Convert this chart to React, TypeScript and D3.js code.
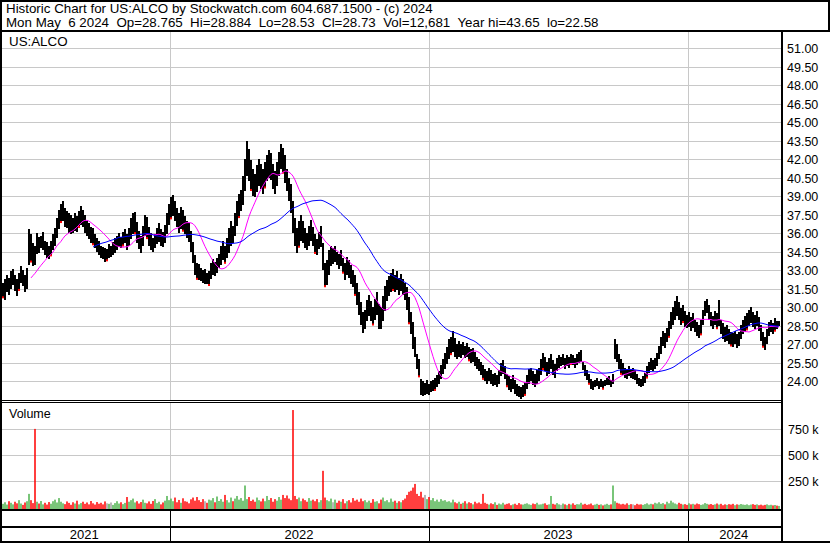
import React from 'react';
import * as d3 from 'd3';

// ---- data (2 trading days per entry) ----
const hi = [
  32.0,32.3,32.6,32.4,32.9,33.1,32.6,32.3,32.8,33.3,33.0,32.6,33.2,
  36.3,35.9,35.2,35.0,36.0,35.7,35.8,36.1,35.4,
  35.3,35.0,35.4,35.9,36.4,
  37.2,37.9,38.4,38.6,38.0,37.8,37.6,
  37.5,37.2,37.6,37.4,37.8,38.2,
  37.9,37.5,37.0,36.8,36.5,36.4,35.9,35.6,35.4,
  35.0,34.9,34.8,34.7,35.1,35.0,35.3,35.6,
  35.8,36.0,35.7,36.1,36.3,35.9,36.4,
  37.2,37.6,37.7,36.9,36.2,35.8,36.6,37.5,37.3,36.5,
  36.0,35.6,35.9,36.4,36.8,36.3,36.1,36.7,
  37.6,38.4,38.9,39.1,38.6,38.0,37.6,38.1,37.9,37.4,37.0,36.8,
  36.2,35.3,34.2,33.6,
  33.5,33.2,33.0,33.1,32.8,32.9,
  33.6,33.9,33.7,34.0,34.3,35.0,35.4,35.0,35.6,
  36.4,37.0,36.6,37.6,38.6,39.2,39.5,40.6,42.0,
  43.5,42.8,41.9,41.2,40.8,41.5,42.0,41.6,41.2,41.8,42.3,42.7,42.5,41.6,41.0,41.8,42.6,43.2,42.9,42.3,41.2,40.5,
  40.0,38.6,37.2,36.4,37.0,37.5,37.0,36.4,36.0,36.6,37.1,36.5,35.9,35.5,36.1,36.6,35.2,33.6,
  33.8,34.6,35.0,34.8,35.0,34.5,34.3,34.6,34.0,33.6,34.1,33.8,33.4,33.0,32.6,
  32.0,31.2,30.4,29.6,29.8,30.6,31.0,30.5,30.0,30.7,31.2,30.3,
  30.0,30.9,31.7,32.2,32.5,32.8,33.1,32.6,32.9,32.4,32.7,32.3,32.0,
  31.6,30.8,29.6,28.8,27.6,26.2,25.8,
  24.2,24.0,23.9,24.1,23.8,24.0,24.1,24.3,24.5,24.8,
  25.3,25.8,26.3,26.8,27.4,27.6,28.1,27.5,27.0,
  27.3,27.0,27.2,26.9,27.1,26.8,26.6,26.7,
  26.4,26.0,25.8,25.6,25.3,25.0,24.8,25.1,24.9,24.6,24.7,24.5,24.9,
  25.5,25.7,25.2,24.6,24.4,24.2,24.5,24.1,23.8,23.6,23.5,23.7,23.9,24.5,25.0,25.1,24.8,24.6,24.9,25.1,
  25.8,26.3,26.0,25.6,25.9,26.2,25.7,25.4,25.9,26.1,26.0,26.2,25.9,26.1,26.0,26.2,26.1,25.9,26.2,26.4,26.5,25.6,25.3,24.9,24.6,
  24.2,24.0,24.1,24.3,24.0,24.2,24.0,24.1,24.3,24.4,24.1,24.6,
  27.4,27.0,26.2,25.8,25.5,25.1,25.0,25.2,25.0,25.1,24.9,24.6,24.3,24.2,24.4,24.7,25.2,25.6,25.9,25.7,25.9,26.3,
  26.9,27.6,28.1,27.9,28.3,28.9,29.6,30.0,30.5,30.9,30.4,29.9,30.2,29.7,29.4,
  29.6,29.2,29.5,29.0,28.8,28.6,29.0,29.8,30.5,30.7,30.2,29.6,29.3,29.7,29.5,30.6,
  29.0,28.7,28.4,28.6,28.2,28.0,27.9,28.1,27.8,28.0,28.6,29.0,29.3,29.5,
  29.8,30.0,29.6,29.4,29.7,29.2,28.6,28.0,27.6,28.2,28.8,29.0,28.7,29.1,28.9,28.9,
];
const lo = [
  30.8,30.6,31.2,31.0,31.5,31.8,31.3,30.9,31.4,32.0,31.7,31.2,31.5,
  33.4,33.7,33.3,33.4,34.3,34.4,34.8,34.6,34.2,
  34.0,33.9,34.2,34.6,35.0,
  35.6,36.3,36.9,37.0,36.5,36.4,36.0,
  35.9,36.0,36.2,36.1,36.5,36.7,
  36.5,36.0,35.8,35.5,35.2,35.1,34.8,34.5,34.2,
  34.0,33.9,33.7,33.8,34.0,34.1,34.2,34.4,
  34.6,34.9,34.8,35.0,35.2,34.6,35.0,
  35.5,35.9,36.0,35.2,34.7,34.4,35.0,35.8,35.6,35.0,
  34.6,34.5,34.8,35.1,35.3,35.0,34.9,35.2,
  35.9,36.7,37.2,37.4,37.0,36.5,36.0,36.3,36.2,35.9,35.6,35.3,
  34.5,33.6,32.6,32.3,
  32.2,32.1,32.0,31.9,31.9,31.8,
  32.3,32.6,32.5,32.8,33.2,33.4,33.8,33.6,34.0,
  34.4,35.0,35.2,35.8,36.6,37.3,37.8,38.3,39.4,
  40.6,40.2,39.5,39.0,38.9,39.3,39.8,39.6,39.2,39.7,40.2,40.5,40.3,39.6,39.2,39.8,40.6,41.2,40.9,40.1,39.4,38.6,
  37.6,36.0,35.0,34.4,34.9,35.4,35.2,34.8,34.6,35.0,35.4,35.0,34.4,34.2,34.7,34.9,33.0,31.7,
  31.8,32.6,33.3,33.5,33.7,33.4,33.1,33.3,32.8,32.2,32.6,32.4,31.9,31.6,31.0,
  30.2,29.4,28.6,27.9,28.2,28.9,29.3,28.9,28.6,29.0,29.4,28.2,
  28.2,28.9,29.7,30.5,30.9,31.2,31.4,31.2,31.4,31.0,31.3,31.0,30.6,
  29.8,28.7,27.8,26.6,26.0,25.0,24.4,
  22.9,22.8,22.9,23.0,22.9,23.1,23.2,23.3,23.5,23.8,
  24.2,24.6,25.0,25.4,25.8,26.2,26.4,26.0,25.8,
  26.0,25.9,26.1,25.9,26.0,25.7,25.5,25.6,
  25.2,25.0,24.8,24.5,24.2,24.0,23.8,24.0,23.8,23.6,23.7,23.5,23.8,
  24.4,24.6,24.2,23.6,23.3,23.1,23.4,23.0,22.8,22.7,22.6,22.7,22.9,23.4,23.8,24.0,23.7,23.5,23.8,24.0,
  24.5,25.0,24.8,24.4,24.6,25.0,24.5,24.3,24.8,25.1,25.2,25.3,25.0,25.2,25.1,25.4,25.3,25.1,25.3,25.5,25.6,24.9,24.4,24.1,23.8,
  23.4,23.3,23.5,23.6,23.4,23.5,23.4,23.6,23.7,23.7,23.5,23.8,
  25.8,25.6,25.0,24.6,24.5,24.3,24.2,24.4,24.3,24.2,24.1,23.8,23.6,23.5,23.6,23.9,24.3,24.7,24.9,24.8,25.0,25.2,
  25.8,26.2,26.9,26.7,27.2,27.6,28.2,28.6,29.0,29.3,29.0,28.6,28.8,28.4,28.3,
  28.4,28.1,28.3,28.0,27.7,27.5,27.8,28.6,29.3,29.5,29.0,28.5,28.2,28.6,28.3,28.5,
  27.8,27.4,27.2,27.3,27.0,26.9,26.8,27.0,26.7,26.9,27.4,27.8,28.0,28.2,
  28.5,28.7,28.4,28.2,28.5,28.1,27.3,26.8,26.5,27.0,27.7,28.0,27.8,28.1,28.2,28.5,
];
// volume in thousands
const vol = [
  35,50,28,60,45,30,55,40,70,38,25,48,60,130,70,42,750,55,38,62,30,
  45,28,52,36,60,75,48,90,55,40,32,58,44,26,50,38,65,30,42,55,
  35,48,30,62,40,28,52,36,45,30,58,40,35,48,25,42,60,38,50,32,
  44,100,55,70,85,48,60,38,52,75,45,40,58,35,62,80,42,55,30,48,65,
  110,70,85,60,95,50,72,45,88,60,55,40,78,95,65,100,70,52,80,
  60,45,75,68,90,50,105,62,80,55,120,70,48,95,60,85,110,75,90,65,
  210,80,100,62,75,55,95,70,58,85,60,110,72,90,55,80,65,100,75,120,
  90,115,85,70,930,110,80,95,60,85,70,55,90,65,75,60,80,50,70,350,
  95,70,60,85,50,75,45,65,55,80,40,60,70,48,90,65,75,55,85,60,
  70,50,65,45,80,55,60,40,75,95,60,70,50,85,55,65,45,60,50,70,
  85,120,150,160,190,225,130,110,150,95,120,80,100,70,90,60,75,55,80,65,
  70,55,60,48,75,50,40,55,35,45,60,38,50,42,30,55,40,48,35,130,
  45,35,28,40,32,50,25,38,30,45,28,35,40,22,30,36,25,42,30,28,
  35,40,30,25,38,32,45,28,30,36,40,25,30,110,35,28,42,30,25,38,
  30,22,35,28,40,25,32,30,45,28,35,25,30,38,22,28,35,25,30,20,
  28,35,25,30,210,60,45,38,30,35,28,40,25,32,30,22,35,28,30,25,
  32,40,28,35,30,45,38,50,35,42,30,55,40,65,48,38,30,45,35,28,
  32,25,40,30,35,28,38,32,25,30,42,35,28,33,25,30,38,28,35,22,
  30,25,32,28,35,22,30,26,33,28,25,30,22,28,32,25,30,22,27,20,25,30,22,26,20,24,18,15,
];
const newsIdx = [0,8,14,24,29,38,45,52,60,66,72,84,90,97,103,111,118,124,131,140,148,156,161,170,176,185,195,203,208,216,224,233,240,252,261,270,284,293,300,309,322,333,340,349,357,364,372,380,386];
const priceTicks = [24,25.5,27,28.5,30,31.5,33,34.5,36,37.5,39,40.5,42,43.5,45,46.5,48,49.5,51];
const volTicks = [250,500,750];
const yearLabels = ['2021','2022','2023','2024'];
const yearBreaks = [83.5,213,342.5]; // entry index of Jan 1
const fastPeriod = 15;
const slowPeriod = 46;

const FONT = '"Liberation Sans", Arial, sans-serif';

export default function App() {
  const W = 830, H = 543;
  const N = Math.min(hi.length, lo.length);
  const x = d3.scaleLinear().domain([0, N - 1]).range([3, 779]);
  const y = d3.scaleLinear().domain([24, 51]).range([381.3, 48]);
  const yv = d3.scaleLinear().domain([0, 1000]).range([507.5, 402.7]);
  const mid = hi.slice(0, N).map((h, i) => (h + lo[i]) / 2);
  const ma = (p: number) => mid.map((_, i) => (i < p - 1 ? null : (d3.mean(mid.slice(i - p + 1, i + 1)) as number)));
  const line = d3.line<number | null>().defined((d) => d != null).x((_, i) => x(i)).y((d) => y(d as number));
  const fast = line(ma(fastPeriod)) || '';
  const slow = line(ma(slowPeriod)) || '';
  const breaksX = yearBreaks.map((b) => Math.round(x(b)) + 0.5);
  const bounds = [0, ...breaksX, 781];
  const green = '#4db34d', red = '#ff0000', gray = '#a0a0a0';

  return (
    <svg width={W} height={H} style={{ position: 'absolute', left: 0, top: 0, background: '#fff' }} fontFamily={FONT}>
      <defs>
        <clipPath id="pc"><rect x={2} y={32} width={779} height={368} /></clipPath>
        <clipPath id="vc"><rect x={2} y={403} width={779} height={106} /></clipPath>
      </defs>
      <rect x={0} y={0} width={W} height={H} fill="#fff" />
      {/* header */}
      <text x={6} y={13} fontSize={13.33} fill="#000" style={{ whiteSpace: 'pre' }}>Historic Chart for US:ALCO by Stockwatch.com 604.687.1500 - (c) 2024</text>
      <text x={6} y={27} fontSize={13.33} fill="#000" style={{ whiteSpace: 'pre' }}>{'Mon May  6 2024  Op=28.765  Hi=28.884  Lo=28.53  Cl=28.73  Vol=12,681  Year hi=43.65  lo=22.58'}</text>

      {/* price grid */}
      {priceTicks.map((t) => (
        <line key={'g' + t} x1={2} x2={781} y1={Math.round(y(t)) + 0.5} y2={Math.round(y(t)) + 0.5} stroke="#c8c8c8" strokeWidth={1} />
      ))}
      {breaksX.map((bx, k) => (
        <g key={'vb' + k}>
          <line x1={bx} x2={bx} y1={32} y2={400} stroke="#c8c8c8" />
          <line x1={bx} x2={bx} y1={403} y2={509} stroke="#c8c8c8" />
          <line x1={bx} x2={bx} y1={511} y2={541} stroke="#000" />
        </g>
      ))}
      {/* volume grid */}
      {volTicks.map((t) => (
        <line key={'vg' + t} x1={2} x2={781} y1={Math.round(yv(t)) + 0.5} y2={Math.round(yv(t)) + 0.5} stroke="#c8c8c8" />
      ))}

      {/* price bars */}
      <g clipPath="url(#pc)">
        {mid.map((_, i) => (
          <rect key={'b' + i} x={x(i) - 1} y={y(hi[i])} width={2} height={Math.max(1, y(lo[i]) - y(hi[i]))} fill="#000" shapeRendering="crispEdges" />
        ))}
        {newsIdx.filter((i) => i < N).map((i) => (
          <rect key={'n' + i} x={x(i) - 1} y={y(lo[i]) - 1} width={2} height={2} fill="#ff0000" />
        ))}
        <path d={fast} fill="none" stroke="#ff00ff" strokeWidth={1} />
        <path d={slow} fill="none" stroke="#0000ff" strokeWidth={1} />
      </g>

      {/* volume bars */}
      <g clipPath="url(#vc)">
        {vol.slice(0, N).map((v, i) => {
          const c = i === 0 ? green : mid[i] > mid[i - 1] ? green : mid[i] < mid[i - 1] ? red : gray;
          return <rect key={'v' + i} x={x(i) - 0.75} y={yv(v)} width={1.5} height={509 - yv(v)} fill={c} />;
        })}
      </g>

      {/* frames */}
      <rect x={0} y={0} width={W} height={2} fill="#000" />
      <rect x={0} y={0} width={2} height={H} fill="#000" />
      <rect x={828} y={0} width={2} height={31} fill="#000" />
      <rect x={0} y={30} width={W} height={2} fill="#000" />
      <rect x={781} y={30} width={2} height={H - 30} fill="#000" />
      <rect x={0} y={400} width={781} height={1} fill="#000" />
      <rect x={0} y={402} width={781} height={1} fill="#000" />
      <rect x={0} y={509} width={781} height={2} fill="#000" />
      <rect x={0} y={526} width={781} height={2} fill="#000" />
      <rect x={0} y={541} width={W} height={2} fill="#000" />

      {/* labels */}
      <text x={9} y={46} fontSize={13.33} fill="#000">US:ALCO</text>
      <text x={9} y={418} fontSize={12.5} fill="#000">Volume</text>
      {priceTicks.map((t) => (
        <text key={'pt' + t} x={787} y={Math.round(y(t)) + 4.5} fontSize={12.5} fill="#000">{t.toFixed(2)}</text>
      ))}
      {volTicks.map((t) => (
        <text key={'vt' + t} x={788} y={Math.round(yv(t)) + 4.5} fontSize={12.5} fill="#000">{t + ' k'}</text>
      ))}
      {yearLabels.map((lab, k) => (
        <text key={lab} x={(bounds[k] + bounds[k + 1]) / 2 - 1} y={539} fontSize={13} textAnchor="middle" fill="#000">{lab}</text>
      ))}
    </svg>
  );
}
